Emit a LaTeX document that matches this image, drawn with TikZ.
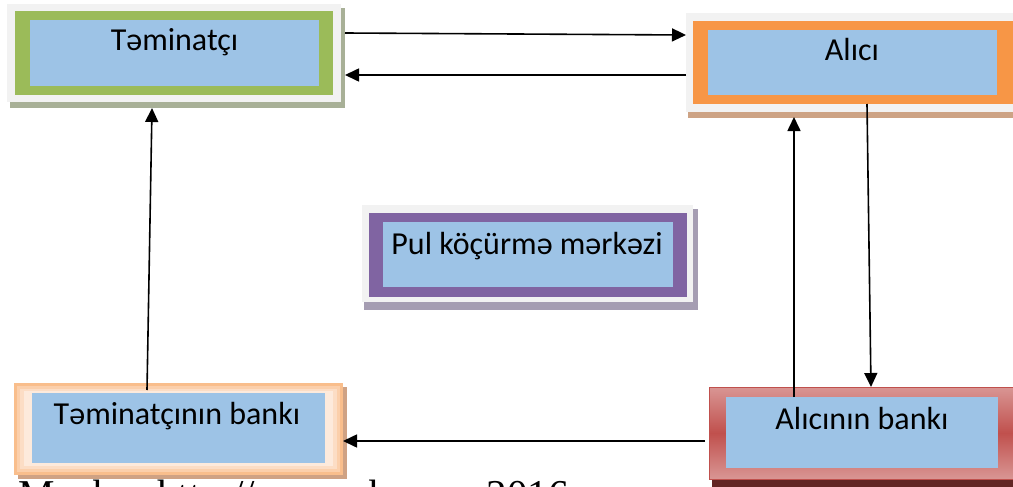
\documentclass[tikz,border=0pt]{standalone}
\usepackage{fontspec}
\setmainfont{Carlito}
\newfontfamily\srcfont{Liberation Serif}
\usetikzlibrary{arrows.meta}
\definecolor{frgray}{HTML}{F2F2F2}
\definecolor{inblue}{HTML}{9DC3E6}
\definecolor{grn}{HTML}{9BBB59}
\definecolor{grnsh}{HTML}{A8B097}
\definecolor{org}{HTML}{F79646}
\definecolor{orgsh}{HTML}{CDA385}
\definecolor{pur}{HTML}{8064A2}
\definecolor{pursh}{HTML}{A59DB2}
\definecolor{pch1}{HTML}{F9BE8C}
\definecolor{pch2}{HTML}{FBCFAB}
\definecolor{pch3}{HTML}{FCDDC5}
\definecolor{pch4}{HTML}{FDEADC}
\definecolor{pchsh}{HTML}{CFA284}
\definecolor{rdk}{HTML}{C0504D}
\definecolor{rlt}{HTML}{D99694}
\definecolor{rsh}{HTML}{632523}
\tikzset{
  layer/.style={inner sep=0pt, outer sep=0pt, anchor=north west, draw=none, fill=#1},
  lbl/.style={anchor=base, inner sep=0pt, font=\fontsize{32}{36}\selectfont},
  arr/.style={line width=1.6pt, -{Triangle[length=14pt,width=13pt]}}
}
\begin{document}
\begin{tikzpicture}[x=1pt,y=-1pt]
\fill[white] (0,0) rectangle (1013,487);
\useasboundingbox (0,0) rectangle (1013,487);
% Təminatçı
\node[layer=grnsh, minimum width=335pt, minimum height=100pt] (Tsh) at (10,8) {};
\node[layer=frgray, minimum width=334pt, minimum height=98pt] (T) at (7,4) {};
\node[layer=grn, minimum width=318pt, minimum height=84pt] (Tg) at (15,11) {};
\node[layer=inblue, minimum width=289pt, minimum height=66pt] (Tb) at (30,20) {};
\node[lbl] (Tt) at (174.5,51) {Təminatçı};
% Alıcı
\node[layer=orgsh, minimum width=340pt, minimum height=101pt] (Ash) at (688,17) {};
\node[layer=frgray, minimum width=340pt, minimum height=99pt] (A) at (686,13) {};
\node[layer=org, minimum width=320pt, minimum height=83pt] (Ao) at (693,21) {};
\node[layer=inblue, minimum width=289pt, minimum height=65pt] (Ab) at (708,30) {};
\node[lbl] (At) at (852,61) {Alıcı};
% Pul köçürmə mərkəzi
\node[layer=pursh, minimum width=334pt, minimum height=101pt] (Psh) at (364,209) {};
\node[layer=frgray, minimum width=331pt, minimum height=97pt] (P) at (362,205) {};
\node[layer=pur, minimum width=318pt, minimum height=84pt] (Pp) at (369,213) {};
\node[layer=inblue, minimum width=290pt, minimum height=65pt] (Pb) at (383,222) {};
\node[lbl] (Pt) at (527,254) {Pul köçürmə mərkəzi};
% Təminatçının bankı
\node[layer=pchsh, minimum width=329pt, minimum height=92pt] (Bsh) at (18,387) {};
\node[layer=pch1, minimum width=329pt, minimum height=92pt] (B) at (14,383) {};
\node[layer=pch2, minimum width=323pt, minimum height=86pt] (B2) at (17,386) {};
\node[layer=pch3, minimum width=317pt, minimum height=80pt] (B3) at (20,389) {};
\node[layer=pch4, minimum width=309pt, minimum height=75pt] (B4) at (24,391) {};
\node[layer=inblue, minimum width=293pt, minimum height=70pt] (Bb) at (32,393) {};
\node[lbl] (Bt) at (177,424) {Təminatçının bankı};
% Alıcının bankı
\node[layer=rsh, minimum width=310pt, minimum height=96pt] (Csh) at (712,391) {};
\node[layer=none, minimum width=310pt, minimum height=92pt, draw=rdk, line width=1pt,
      top color=rlt, bottom color=rlt, middle color=rdk] (C) at (709,387) {};
\node[layer=inblue, minimum width=272pt, minimum height=71pt] (Cb) at (726,397) {};
\node[lbl] (Ct) at (862,429) {Alıcının bankı};
% connectors
\draw[arr] ([yshift=25pt]Tsh.east) -- ([yshift=27.5pt]A.west);
\draw[arr] ([yshift=-12.5pt]A.west) -- ([yshift=-17pt]Tsh.east);
\draw[arr] ([xshift=-31.5pt,yshift=-7pt]B.north) -- ([xshift=-25.5pt]Tsh.south);
\draw[arr] ([xshift=-68pt]Cb.north) -- ([xshift=-64pt,yshift=1pt]Ash.south);
\draw[arr] ([xshift=14pt]Ao.south) -- ([xshift=7pt]C.north);
\draw[arr] ([xshift=-4pt,yshift=-8pt]C.west) -- ([xshift=-4pt,yshift=-8pt]Bsh.east);
% source line (cut off at the bottom edge, as in the reference)
\node[anchor=base west, inner sep=0pt, font=\srcfont\fontsize{41}{44}\selectfont] (src) at (18,508) {Mənbə: http://www.cbar.az, 2016};
\end{tikzpicture}
\end{document}
